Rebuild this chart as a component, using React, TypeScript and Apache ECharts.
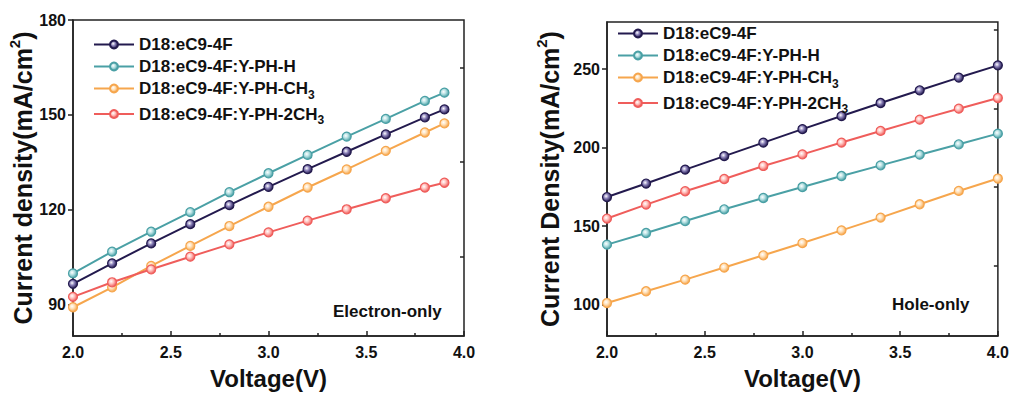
import React, { useEffect, useRef } from "react";
import * as echarts from "echarts";

const seriesNames = [
  "D18:eC9-4F",
  "D18:eC9-4F:Y-PH-H",
  "D18:eC9-4F:Y-PH-CH3",
  "D18:eC9-4F:Y-PH-2CH3",
];
const seriesColors = ["#231a4e", "#4aa0a5", "#f6a64d", "#ef5d5b"];
const seriesLight = ["#8a80b8", "#b5e0e2", "#ffe0b8", "#ffc0bc"];

// Electron-only (left)
const voltageLeft = [2.0, 2.2, 2.4, 2.6, 2.8, 3.0, 3.2, 3.4, 3.6, 3.8, 3.9];
const electronD18 = [96.5, 103, 109.3, 115.4, 121.4, 127.2, 132.8, 138.3, 143.8, 149.2, 151.7];
const electronH = [99.8, 106.7, 113, 119.2, 125.5, 131.5, 137.3, 143.1, 148.7, 154.4, 157];
const electronCH3 = [89.1, 95.4, 102.2, 108.5, 114.8, 120.9, 127, 132.7, 138.6, 144.4, 147.3];
const electron2CH3 = [92.4, 97, 101.1, 105.1, 109, 112.8, 116.5, 120.1, 123.6, 127, 128.5];

// Hole-only (right)
const voltageRight = [2.0, 2.2, 2.4, 2.6, 2.8, 3.0, 3.2, 3.4, 3.6, 3.8, 4.0];
const holeD18 = [168.5, 177.1, 186, 194.6, 203.2, 211.8, 220.1, 228.4, 236.5, 244.6, 252.4];
const holeH = [138.2, 145.6, 153.2, 160.7, 167.9, 174.9, 181.9, 188.7, 195.5, 202.1, 208.9];
const holeCH3 = [101, 108.5, 115.9, 123.6, 131.4, 139.2, 147.3, 155.4, 163.9, 172.4, 180.3];
const hole2CH3 = [154.8, 163.7, 172.2, 180, 188.3, 195.7, 203.2, 210.6, 217.8, 224.8, 231.6];

const leftYMajor = [90, 120, 150, 180];
const leftYMinor = [105, 135, 165];
const rightYMajor = [100, 150, 200, 250];
const rightYMinor = [125, 175, 225, 275];

const FONT = "'Liberation Sans', Arial, sans-serif";
const INK = "#111";

function pair(xs: number[], ys: number[]) {
  return xs.map((x, i) => [x, ys[i]]);
}

function makeSeries(name: string, idx: number, xs: number[], ys: number[], axis: number) {
  const c = seriesColors[idx];
  return {
    type: "line",
    name,
    xAxisIndex: axis,
    yAxisIndex: axis * 2,
    data: pair(xs, ys),
    symbol: "circle",
    symbolSize: 9,
    lineStyle: { color: c, width: 2 },
    itemStyle: {
      color: {
        type: "radial",
        x: 0.4,
        y: 0.4,
        r: 0.6,
        colorStops: [
          { offset: 0, color: "#ffffff" },
          { offset: 0.45, color: seriesLight[idx] },
          { offset: 1, color: c },
        ],
      },
      borderColor: c,
      borderWidth: 1.2,
    },
    z: 3,
  };
}

function legendFormatter(name: string) {
  if (name.endsWith("CH3")) {
    return `{m|${name.slice(0, -1)}}{s|3}`;
  }
  return `{m|${name}}`;
}

const legendRich = {
  m: { fontSize: 17, fontWeight: "bold", color: INK, fontFamily: FONT, lineHeight: 24, verticalAlign: "middle" },
  s: { fontSize: 12, fontWeight: "bold", color: INK, fontFamily: FONT, lineHeight: 13, verticalAlign: "bottom" },
};

function makeXAxis(gridIndex: number) {
  return {
    type: "value",
    gridIndex,
    min: 2,
    max: 4,
    interval: 0.5,
    name: "Voltage(V)",
    nameLocation: "middle",
    nameGap: 30,
    nameTextStyle: { fontSize: 24, fontWeight: "bold", color: INK, fontFamily: FONT },
    axisLine: { show: true, lineStyle: { color: "#222", width: 1.5 } },
    axisTick: { show: true, inside: true, length: 5, lineStyle: { color: "#222", width: 1.5 } },
    minorTick: { show: true, splitNumber: 2, length: 3, lineStyle: { color: "#222", width: 1.5 } },
    axisLabel: {
      fontSize: 16,
      fontWeight: "bold",
      color: INK,
      fontFamily: FONT,
      margin: 8,
      formatter: (v: number) => v.toFixed(1),
    },
    splitLine: { show: false },
  };
}

function makeYAxes(
  gridIndex: number,
  min: number,
  max: number,
  major: number[],
  minor: number[],
  title: string,
  gap: number
) {
  return [
    {
      type: "value",
      gridIndex,
      min,
      max,
      name: `{b|${title}(mA/cm}{p|2}{b|)}`,
      nameLocation: "middle",
      nameRotate: 90,
      nameGap: gap,
      nameTextStyle: {
        rich: {
          b: { fontSize: 25, fontWeight: "bold", color: INK, fontFamily: FONT, lineHeight: 28, verticalAlign: "bottom" },
          p: { fontSize: 15, fontWeight: "bold", color: INK, fontFamily: FONT, lineHeight: 18, verticalAlign: "top" },
        },
      },
      axisLine: { show: true, lineStyle: { color: "#222", width: 1.5 } },
      axisTick: { show: true, inside: false, length: 5, customValues: major, lineStyle: { color: "#222", width: 1.5 } },
      axisLabel: {
        customValues: major,
        fontSize: 16,
        fontWeight: "bold",
        color: INK,
        fontFamily: FONT,
        margin: 7,
      },
      splitLine: { show: false },
    },
    {
      type: "value",
      gridIndex,
      min,
      max,
      axisLine: { show: false },
      axisTick: { show: true, inside: true, length: 4, customValues: minor, lineStyle: { color: "#222", width: 1.5 } },
      axisLabel: { show: false },
      splitLine: { show: false },
    },
  ];
}

export default function App() {
  const ref = useRef<HTMLDivElement>(null);

  useEffect(() => {
    if (!ref.current) return;
    const chart = echarts.init(ref.current, null, { renderer: "svg" });
    const leftY = makeYAxes(0, 80, 180, leftYMajor, leftYMinor, "Current density", 36);
    const rightY = makeYAxes(1, 80, 280, rightYMajor, rightYMinor, "Current Density", 45);
    chart.setOption({
      animation: false,
      backgroundColor: "#ffffff",
      grid: [
        { left: 73, top: 20, right: 548, bottom: 61, show: true, borderColor: "#222", borderWidth: 1.5, backgroundColor: "transparent" },
        { left: 607, top: 22, right: 13, bottom: 61, show: true, borderColor: "#222", borderWidth: 1.5, backgroundColor: "transparent" },
      ],
      legend: [
        {
          orient: "vertical",
          left: 88,
          top: 31,
          itemWidth: 40,
          itemHeight: 10,
          itemGap: 5,
          data: seriesNames,
          formatter: legendFormatter,
          textStyle: { rich: legendRich },
          selectedMode: false,
        },
        {
          orient: "vertical",
          left: 612,
          top: 20,
          itemWidth: 40,
          itemHeight: 10,
          itemGap: 5,
          data: seriesNames,
          formatter: legendFormatter,
          textStyle: { rich: legendRich },
          selectedMode: false,
        },
      ],
      xAxis: [makeXAxis(0), makeXAxis(1)],
      yAxis: [...leftY, ...rightY],
      series: [
        makeSeries(seriesNames[0], 0, voltageLeft, electronD18, 0),
        makeSeries(seriesNames[1], 1, voltageLeft, electronH, 0),
        makeSeries(seriesNames[2], 2, voltageLeft, electronCH3, 0),
        makeSeries(seriesNames[3], 3, voltageLeft, electron2CH3, 0),
        makeSeries(seriesNames[0], 0, voltageRight, holeD18, 1),
        makeSeries(seriesNames[1], 1, voltageRight, holeH, 1),
        makeSeries(seriesNames[2], 2, voltageRight, holeCH3, 1),
        makeSeries(seriesNames[3], 3, voltageRight, hole2CH3, 1),
      ],
      graphic: [
        {
          type: "text",
          left: 333,
          top: 303,
          style: { text: "Electron-only", fontSize: 17, fontWeight: "bold", fill: INK, fontFamily: FONT },
        },
        {
          type: "text",
          left: 892,
          top: 296,
          style: { text: "Hole-only", fontSize: 17, fontWeight: "bold", fill: INK, fontFamily: FONT },
        },
      ],
    });
    return () => chart.dispose();
  }, []);

  return (
    <div
      ref={ref}
      style={{ position: "absolute", left: 0, top: 0, width: 1012, height: 397, background: "#fff" }}
    />
  );
}
